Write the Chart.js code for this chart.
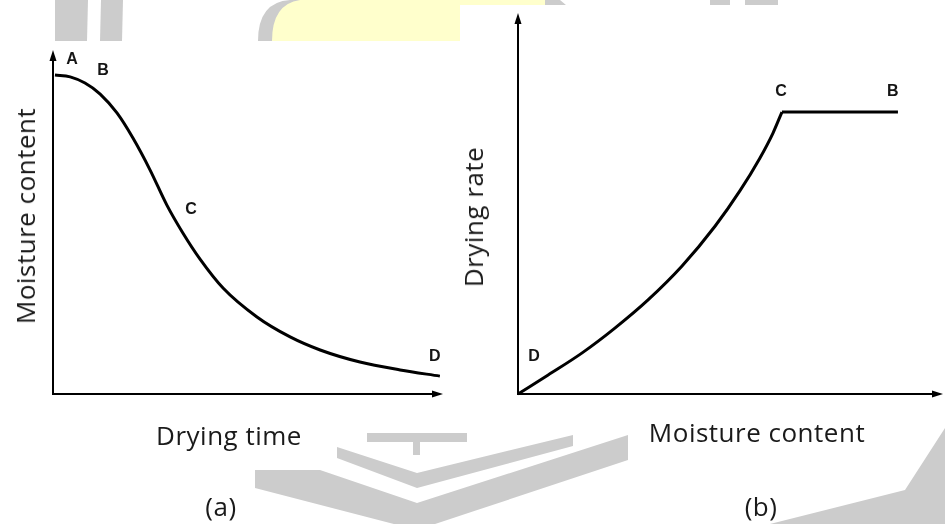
<!DOCTYPE html>
<html>
<head>
<meta charset="utf-8">
<title>Drying curves</title>
<script src="https://cdn.jsdelivr.net/npm/chart.js@4.4.1/dist/chart.umd.min.js"></script>
<style>
  body { margin: 0; background: #fff; }
  #wrap { position: relative; width: 945px; height: 524px; overflow: hidden;
          font-family: "Open Sans", sans-serif; color: #1a1a1a; }
  #marca { position: absolute; left: 0; top: 0; }
  .painel { position: absolute; top: 0; }
  .txt { position: absolute; font-size: 26px; line-height: 26px; letter-spacing: 0.5px; white-space: nowrap; }
  .rot { transform: translate(-50%, -50%) rotate(-90deg); }
  .cen { transform: translateX(-50%); }
</style>
</head>
<body>
<div id="wrap">
  <!-- watermark left behind the figure -->
  <svg id="marca" width="945" height="524">
    <g fill="#cccccc">
      <polygon points="55,0 88,0 87,41 55,41"/>
      <polygon points="101,0 123,0 122,41 100,41"/>
      <path d="M258 41 Q258 2 290 0 L560 0 L566 5 L460 5 L460 41 Z"/>
      <rect x="710" y="0" width="20" height="5"/>
      <rect x="745" y="0" width="33" height="5"/>
      <rect x="367" y="433" width="100" height="9"/>
      <rect x="413" y="433" width="7" height="22"/>
      <polygon points="337,447 417,473 573,435 573,446 417,488 337,458"/>
      <polygon points="255,470 320,470 417,503 628,435 628,460 417,530 255,488"/>
      <polygon points="945,428 945,524 770,524 905,490"/>
    </g>
    <path d="M272 41 Q272 4 300 0 L545 0 L545 5 L460 5 L460 41 Z" fill="#ffffcc"/>
  </svg>

  <canvas id="graficoA" class="painel" style="left:0" width="470" height="524"></canvas>
  <canvas id="graficoB" class="painel" style="left:470px" width="475" height="524"></canvas>

  <div class="txt rot" style="left:25px; top:216px">Moisture content</div>
  <div class="txt cen" style="left:229px; top:422px">Drying time</div>
  <div class="txt cen" style="left:221px; top:493px">(a)</div>

  <div class="txt rot" style="left:473px; top:217px">Drying rate</div>
  <div class="txt cen" style="left:757px; top:419px">Moisture content</div>
  <div class="txt cen" style="left:761px; top:493px">(b)</div>
</div>

<script>
// (a) moisture content against drying time
const dryingTime = [0.5, 4.4, 8.2, 12.1, 16.4, 20.5, 24.9, 29.2, 33.3, 37.7, 43.6, 52.3, 60.8, 68.5, 78.7, 89.0, 99.2];
const moistureA = [92.7, 92.2, 90.4, 87.2, 81.7, 74.4, 65.1, 54.9, 46.8, 39.2, 30.8, 22.4, 16.6, 12.8, 9.3, 7.0, 5.2];

// (b) drying rate against moisture content, falling part then constant part C-B
const moistureB = [0, 7.1, 15.1, 22.8, 30.6, 38.6, 46.4, 52.2, 56.9, 60.0, 62.1];
const dryingRate = [0, 5.0, 10.8, 17.3, 24.7, 33.6, 44.1, 53.3, 61.9, 68.5, 74];
const constMoisture = [62.1, 89.4];
const constRate = [74, 74];

// point letters on each curve
const lettersA = ["A", "B", "C", "D"];
const letterAX = [4.9, 12.8, 35.4, 97.9];
const letterAY = [97.1, 93.9, 53.5, 11.0];

const lettersB = ["D", "C", "B"];
const letterBX = [3.8, 61.9, 88.2];
const letterBY = [9.7, 79.3, 79.3];

function juntarPontos(xs, ys) {
  return xs.map((x, i) => ({ x: x, y: ys[i] }));
}

// axes with arrow heads at the ends
const setasEixos = {
  id: "setasEixos",
  afterDatasetsDraw(chart) {
    const ctx = chart.ctx;
    const sx = chart.scales.x;
    const sy = chart.scales.y;
    const x0 = sx.getPixelForValue(0);
    const y0 = sy.getPixelForValue(0);
    const xFim = sx.getPixelForValue(sx.max);
    const yFim = sy.getPixelForValue(sy.max);
    ctx.save();
    ctx.strokeStyle = "#000";
    ctx.fillStyle = "#000";
    ctx.lineWidth = 2;
    ctx.beginPath();
    ctx.moveTo(x0, y0 + 1);
    ctx.lineTo(x0, yFim + 8);
    ctx.moveTo(x0 - 1, y0);
    ctx.lineTo(xFim - 8, y0);
    ctx.stroke();
    ctx.beginPath();
    ctx.moveTo(x0, yFim);
    ctx.lineTo(x0 - 3.5, yFim + 11);
    ctx.lineTo(x0 + 3.5, yFim + 11);
    ctx.closePath();
    ctx.fill();
    ctx.beginPath();
    ctx.moveTo(xFim, y0);
    ctx.lineTo(xFim - 11, y0 - 3.5);
    ctx.lineTo(xFim - 11, y0 + 3.5);
    ctx.closePath();
    ctx.fill();
    ctx.restore();
  }
};

// letters A, B, C, D placed on the chart scales
const letrasPontos = {
  id: "letrasPontos",
  afterDraw(chart, args, opts) {
    const ctx = chart.ctx;
    ctx.save();
    ctx.font = 'bold 16px "Liberation Sans", Arial, sans-serif';
    ctx.fillStyle = "#151515";
    ctx.textAlign = "center";
    ctx.textBaseline = "middle";
    opts.texts.forEach((t, i) => {
      ctx.fillText(t, chart.scales.x.getPixelForValue(opts.xs[i]), chart.scales.y.getPixelForValue(opts.ys[i]));
    });
    ctx.restore();
  }
};

function linha(dados) {
  return {
    data: dados,
    showLine: true,
    borderColor: "#000",
    borderWidth: 3,
    pointRadius: 0,
    cubicInterpolationMode: "monotone",
    clip: false
  };
}

function montarConfig(datasets, padding, letras) {
  return {
    type: "scatter",
    data: { datasets: datasets },
    options: {
      responsive: false,
      animation: false,
      layout: { padding: padding },
      scales: {
        x: { type: "linear", min: 0, max: 100, display: false },
        y: { type: "linear", min: 0, max: 100, display: false }
      },
      plugins: {
        legend: { display: false },
        tooltip: { enabled: false },
        letrasPontos: letras
      }
    },
    plugins: [setasEixos, letrasPontos]
  };
}

new Chart(document.getElementById("graficoA").getContext("2d"), montarConfig(
  [linha(juntarPontos(dryingTime, moistureA))],
  { left: 53, right: 27, top: 50, bottom: 130 },
  { texts: lettersA, xs: letterAX, ys: letterAY }
));

new Chart(document.getElementById("graficoB").getContext("2d"), montarConfig(
  [linha(juntarPontos(moistureB, dryingRate)), linha(juntarPontos(constMoisture, constRate))],
  { left: 48, right: 2, top: 13, bottom: 130 },
  { texts: lettersB, xs: letterBX, ys: letterBY }
));
</script>
</body>
</html>
